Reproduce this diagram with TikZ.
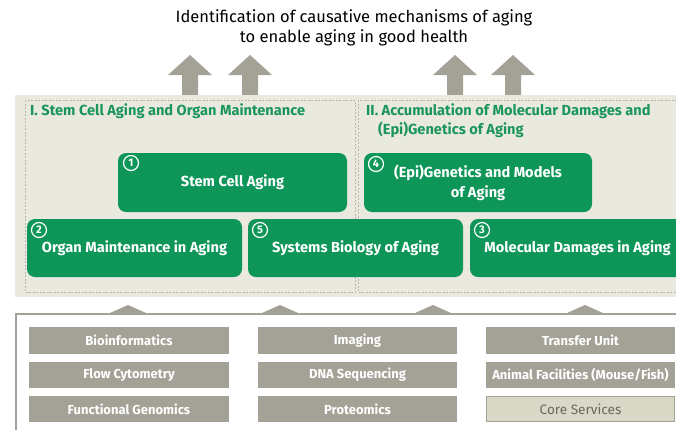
\documentclass[tikz,border=0pt]{standalone}
\usepackage{fontspec}
\setmainfont{Fira Sans}
\begin{document}
\definecolor{leaf}{HTML}{0D9658}
\definecolor{leaftext}{HTML}{1A965A}
\definecolor{panel}{HTML}{EAE9DF}
\definecolor{stone}{HTML}{A4A197}
\definecolor{dashgray}{HTML}{B8B5AB}
\definecolor{corefill}{HTML}{DAD8C6}
\definecolor{coretext}{HTML}{6B6960}
\tikzset{
  upshape/.style={fill=stone, draw=none},
  greenbox/.style={fill=leaf, draw=none, rounded corners=8pt, text=white,
    font=\fontsize{14.6}{20}\selectfont\bfseries, align=center, inner sep=0pt},
  numring/.style={circle, draw=white, line width=1.2pt, text=white, inner sep=0pt,
    minimum size=15pt, font=\fontsize{11}{11}\selectfont\bfseries},
  grouptitle/.style={text=leaftext, anchor=west, inner sep=0pt,
    font=\fontsize{14.6}{18}\selectfont\bfseries},
  facility/.style={fill=stone, draw=none, text=white, inner sep=0pt,
    font=\fontsize{13}{15}\selectfont\bfseries},
  groupframe/.style={draw=dashgray, dash pattern=on 2pt off 1.5pt, line width=0.7pt},
}
\begin{tikzpicture}[x=1pt,y=-1pt]
\useasboundingbox (0,0) rectangle (676,429);
\clip (0,0) rectangle (676,429);
\fill[white] (0,0) rectangle (676,429);

% headline
\node[font=\fontsize{16.5}{20}\selectfont, align=center, inner sep=0pt] (goal) at (354,28)
  {Identification of causative mechanisms of aging\\to enable aging in good health};

% upward arrows
\foreach \cx in {190,250,455,513}{
  \fill[upshape] (\cx,55) -- (\cx+22,75) -- (\cx+8,75) -- (\cx+8,96) -- (\cx-8,96) -- (\cx-8,75) -- (\cx-22,75) -- cycle;
}

% research panel
\fill[panel] (15,95) rectangle (690,297);
\draw[groupframe] (25,100) rectangle (355,292);
\draw[groupframe] (358,100) rectangle (700,292);

\node[grouptitle] (titleI) at (30,111) {I. Stem Cell Aging and Organ Maintenance};
\node[grouptitle] (titleIIa) at (366,111) {II. Accumulation of Molecular Damages and};
\node[grouptitle] (titleIIb) at (378,130) {(Epi)Genetics of Aging};

% research areas
\node[greenbox, minimum width=229pt, minimum height=59pt] (sca) at (232.5,182.5) {Stem Cell Aging};
\node[greenbox, minimum width=228pt, minimum height=59pt] (epi) at (478,182.5) {(Epi)Genetics and Models\\of Aging};
\node[greenbox, minimum width=215pt, minimum height=58pt] (organ) at (134.5,248) {Organ Maintenance in Aging};
\node[greenbox, minimum width=215pt, minimum height=58pt] (sysbio) at (355.5,248) {Systems Biology of Aging};
\node[greenbox, minimum width=215pt, minimum height=58pt] (moldam) at (577.5,248) {Molecular Damages in Aging};

\node[numring] (n1) at (131,163) {1};
\node[numring] (n2) at (39,230) {2};
\node[numring] (n5) at (260,230) {5};
\node[numring] (n4) at (376,164) {4};
\node[numring] (n3) at (482,230) {3};

% service platform
\draw[stone, line width=1.6pt] (16,440) -- (16,314) -- (700,314);
\foreach \cx in {128,280,433,585}{
  \fill[stone] (\cx-22,314.8) -- (\cx,305) -- (\cx+22,314.8) -- cycle;
}

\node[facility, minimum width=200pt, minimum height=27pt] (bioinf) at (129,340.5) {Bioinformatics};
\node[facility, minimum width=200pt, minimum height=26pt] (flow) at (129,375) {Flow Cytometry};
\node[facility, minimum width=200pt, minimum height=26pt] (fungen) at (129,409) {Functional Genomics};

\node[facility, minimum width=199pt, minimum height=27pt] (imaging) at (357.5,340.5) {Imaging};
\node[facility, minimum width=199pt, minimum height=26pt] (dnaseq) at (357.5,375) {DNA Sequencing};
\node[facility, minimum width=199pt, minimum height=26pt] (prot) at (357.5,409) {Proteomics};

\node[facility, minimum width=189pt, minimum height=27pt] (transfer) at (580.5,340.5) {Transfer Unit};
\node[facility, minimum width=189pt, minimum height=26pt] (animal) at (580.5,375) {Animal Facilities (Mouse/Fish)};
\node[facility, fill=corefill, draw=stone, line width=0.8pt, text=coretext, font=\fontsize{13.6}{15}\selectfont,
  minimum width=188pt, minimum height=25pt] (core) at (580.5,409) {Core Services};
\end{tikzpicture}
\end{document}
